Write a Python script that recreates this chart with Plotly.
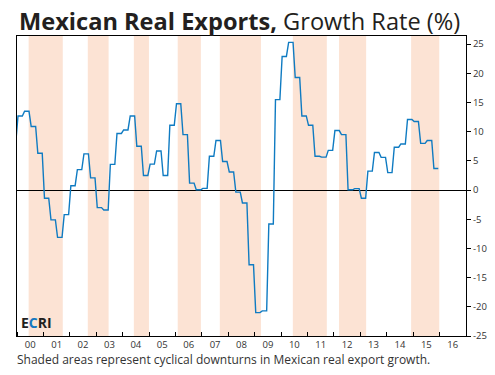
import plotly.graph_objects as go

# Quarterly readings (each quarter shown as three equal monthly points, mid-month)
years = list(range(2000, 2016))
q_values = {
    2000: [12.7, 13.5, 10.9, 6.3],
    2001: [-1.4, -5.1, -8.1, -4.2],
    2002: [0.75, 3.5, 6.2, 2.1],
    2003: [-3.0, -3.4, 4.4, 9.7],
    2004: [10.3, 12.7, 7.5, 2.5],
    2005: [4.45, 6.7, 2.5, 11.1],
    2006: [14.8, 9.5, 1.2, 0.05],
    2007: [0.3, 5.8, 8.5, 4.9],
    2008: [3.1, -0.35, -2.2, -12.8],
    2009: [-21.0, -20.7, -5.8, 15.5],
    2010: [22.9, 25.3, 19.3, 12.7],
    2011: [11.1, 5.8, 5.65, 6.8],
    2012: [10.2, 9.5, 0.05, 0.25],
    2013: [-1.4, 3.25, 6.45, 5.6],
    2014: [3.0, 7.35, 7.9, 12.1],
    2015: [11.75, 8.0, 8.5, 3.7],
}
prior_date = "1999-12-15"
prior_value = 8.1

# Shaded downturn periods (start, end)
downturn_starts = ["2000-06-10", "2002-09-06", "2004-06-04", "2006-02-01", "2007-09-06",
                   "2010-06-12", "2012-03-12", "2014-12-04"]
downturn_ends = ["2001-09-25", "2003-06-21", "2004-12-30", "2006-12-18", "2009-03-28",
                 "2011-09-25", "2013-03-22", "2015-12-28"]

y_tick_vals = [25, 20, 15, 10, 5, 0, -5, -10, -15, -20, -25]
y_tick_text = ["25", "20", "15", "10", "5", "0", "-5", "-10", "-15", "-20", "-25"]

# Build monthly series from quarterly readings
dates = [prior_date]
vals = [prior_value]
for yr in years:
    for qi, v in enumerate(q_values[yr]):
        for k in range(3):
            mth = qi * 3 + k + 1
            dates.append(f"{yr}-{mth:02d}-15")
            vals.append(v)

FONT = "Open Sans"
fig = go.Figure()
fig.add_trace(go.Scatter(x=dates, y=vals, mode="lines",
                         line=dict(color="#0f7bc2", width=1.4),
                         hoverinfo="skip", showlegend=False))

for s, e in zip(downturn_starts, downturn_ends):
    fig.add_shape(type="rect", xref="x", yref="paper", x0=s, x1=e, y0=0, y1=1,
                  fillcolor="#fce3d4", line=dict(width=0), layer="below")

fig.update_layout(
    width=495, height=375,
    margin=dict(l=17, r=29, t=36, b=39, autoexpand=False),
    paper_bgcolor="white", plot_bgcolor="white",
    font=dict(family=FONT, color="#333333", size=9),
    xaxis=dict(type="date", range=["2000-01-01", "2017-01-01"],
               tick0="2000-01-01", dtick="M12", tickformat="%y",
               ticklabelmode="period", ticks="inside", ticklen=4,
               tickcolor="black", showgrid=False, showline=True,
               linecolor="black", linewidth=1, mirror=True,
               tickfont=dict(size=9.5, color="#333333"), zeroline=False),
    yaxis=dict(range=[-25, 26.4], side="right", tickvals=y_tick_vals,
               ticktext=y_tick_text, ticks="outside", ticklen=4,
               tickcolor="black", showgrid=False, showline=True,
               linecolor="black", linewidth=1, mirror=True,
               zeroline=True, zerolinecolor="black", zerolinewidth=1,
               tickfont=dict(size=9.5, color="#333333")),
)

fig.add_annotation(xref="paper", yref="paper", x=0, y=1, xshift=0, yshift=15,
                   xanchor="left", yanchor="middle", showarrow=False,
                   text="<b>Mexican Real Exports,</b> Growth Rate (%)",
                   font=dict(family=FONT, size=23.6, color="#231f20"))
fig.add_annotation(xref="paper", yref="paper", x=0, y=0, xshift=-2, yshift=-23,
                   xanchor="left", yanchor="middle", showarrow=False,
                   text="Shaded areas represent cyclical downturns in Mexican real export growth.",
                   font=dict(family=FONT, size=12, color="#333333"))
fig.add_annotation(xref="paper", yref="paper", x=0, y=0, xshift=2, yshift=2,
                   xanchor="left", yanchor="bottom", showarrow=False,
                   text="<b>E<span style='color:#1478c0'>C</span>RI</b>",
                   font=dict(family=FONT, size=14, color="#231f20"))

fig.write_html("out.html", config={"displayModeBar": False},
               post_script="document.body.style.margin='0';")
